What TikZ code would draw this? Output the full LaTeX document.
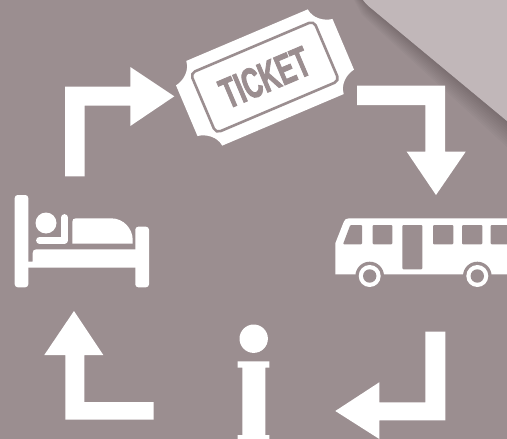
\documentclass[tikz,border=0pt]{standalone}
\usepackage{fontspec}
\setmainfont{Liberation Sans}
\newfontfamily\ticketfont[UprightFont=* Bold,FakeBold=1.8,FakeStretch=0.6]{Liberation Sans}
\definecolor{bgtone}{HTML}{9B8E90}
\definecolor{foldtone}{HTML}{C1B7B9}
\tikzset{
  icon/.style={fill=white,draw=none},
  cutout/.style={fill=bgtone,draw=none},
}
\begin{document}
\begin{tikzpicture}[x=1pt,y=-1pt]
\useasboundingbox (0,0) rectangle (507,439);
\fill[bgtone] (0,0) rectangle (507,439);
% shadow beneath the fold
\begin{scope}
\clip (0,0) rectangle (507,439);
\foreach \k in {1,...,10}{
  \fill[black,opacity=0.02] (363-0.9*\k,0) -- (372-1.0*\k,9+0.6*\k) -- (507,121+2.6*\k) -- (507,121) -- (372,9) -- (363,0) -- cycle;
}
\end{scope}
% fold
\fill[foldtone] (363,0) .. controls (366,4) and (368,6) .. (372,9) -- (507,121) -- (507,0) -- cycle;
% arrows
\fill[icon] (65,176.3) -- (65,86.7) -- (130.3,86.7) -- (130.3,67) -- (174.3,96.3) -- (130.3,126) -- (130.3,105.7) -- (84.7,105.7) -- (84.7,176.3) -- cycle;
\fill[icon] (357,85.7) -- (445,85.7) -- (445,151.7) -- (465.7,151.7) -- (436,195) -- (406.7,151.7) -- (425.3,151.7) -- (425.3,105) -- (357,105) -- cycle;
\fill[icon] (445.3,331.7) -- (445.3,420.3) -- (379.3,420.3) -- (379.3,439) -- (335.3,411) -- (379.3,382.3) -- (379.3,402.3) -- (425.3,402.3) -- (425.3,331.7) -- cycle;
\fill[icon] (153.7,419.7) -- (65.3,419.7) -- (65.3,355) -- (44.3,355) -- (74,311) -- (103.3,355) -- (84.3,355) -- (84.3,402) -- (153.7,402) -- cycle;
% ticket
\begin{scope}[shift={(265,77.5)},rotate=23]
\fill[icon] (-66,-46) -- (66,-46) .. controls (67,-36) and (76,-29) .. (85,-27.5) -- (85,27.5) .. controls (76,29) and (67,36) .. (66,46) -- (-66,46) .. controls (-67,36) and (-76,29) .. (-85,27.5) -- (-85,-27.5) .. controls (-76,-29) and (-67,-36) .. (-66,-46) -- cycle;
\draw[bgtone,line width=2.6pt,rounded corners=5pt] (-67,-33) rectangle (67,32);
\node[text=bgtone,inner sep=0pt,transform shape] (ticketlabel) at (0,0) {\fontsize{43}{43}\selectfont\ticketfont TICKET};
\end{scope}
% bed
\fill[icon,rounded corners=3pt] (14.7,195) rectangle (28.3,287.3);
\fill[icon,rounded corners=3pt] (135.3,226.7) rectangle (149,287.3);
\fill[icon] (28,261.7) -- (32.7,261.7) -- (32.7,253) .. controls (32.7,250.5) and (34,249.3) .. (36.5,249.3) -- (136,249.3) -- (136,267.7) -- (28,267.7) -- cycle;
\fill[icon] (46,223) circle (10.5);
\draw[white,line width=6.8pt,line cap=round,line join=round] (39.5,240.3) -- (64.5,240.3) -- (64.5,217.5);
\fill[icon] (72.3,222) .. controls (72.3,219.5) and (73.5,218.3) .. (76,218.3) -- (111,218.3) .. controls (124,218.3) and (132.7,229) .. (132.7,240) -- (132.7,243.7) -- (72.3,243.7) -- cycle;
% bus
\fill[icon] (335.3,274.3) -- (335.3,243.3) -- (343.7,222) .. controls (344.8,219.5) and (346,218.3) .. (349,218.3) -- (507,218.3) -- (507,274.3) -- cycle;
\fill[cutout,rounded corners=1pt] (350.3,225) -- (362,225) -- (362,244.3) -- (343,244.3) -- cycle;
\fill[cutout,rounded corners=1pt] (372.7,225) rectangle (392.3,244.3);
\fill[cutout,rounded corners=1pt] (402.3,225) rectangle (422.3,269.3);
\fill[cutout,rounded corners=1pt] (433,225) rectangle (453.3,244.3);
\fill[cutout,rounded corners=1pt] (462,225) rectangle (482.3,244.3);
\fill[cutout,rounded corners=1pt] (490.7,225) rectangle (510,244.3);
\foreach \cx in {369.7,477.3}{
  \fill[cutout] (\cx,276) circle (14.3);
  \fill[icon] (\cx,276) circle (11);
  \fill[cutout] (\cx,276) circle (6.7);
}
% information sign
\fill[icon] (253.7,338.7) circle (14.2);
\fill[icon] (237.7,361.3) -- (269.3,361.3) -- (269.3,367.7) -- (265.3,367.7) -- (265.3,435) -- (269.3,435) -- (269.3,439) -- (237.7,439) -- (237.7,435) -- (242.3,435) -- (242.3,367.7) -- (237.7,367.7) -- cycle;
\end{tikzpicture}
\end{document}
